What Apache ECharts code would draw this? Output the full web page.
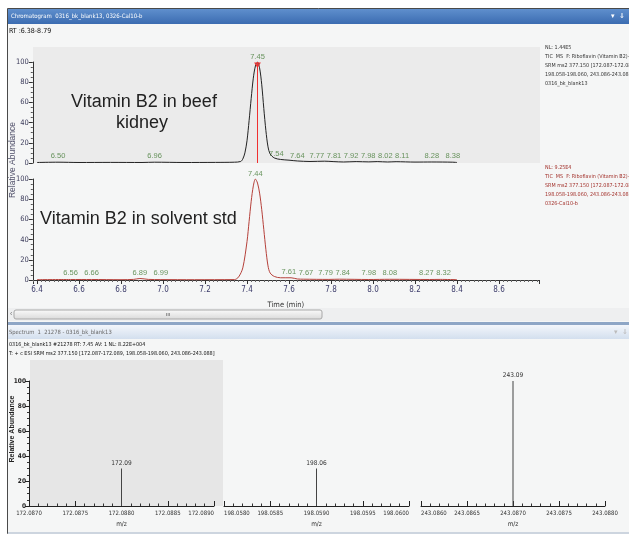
<!DOCTYPE html>
<html>
<head>
<meta charset="utf-8">
<script src="https://cdn.jsdelivr.net/npm/echarts@6/dist/echarts.min.js"></script>
<style>
html, body { margin: 0; padding: 0; background: #fff; }
#chart { width: 629px; height: 544px; }
</style>
</head>
<body>
<div id="chart"></div>
<script>
const NARROW = "'Liberation Sans Narrow', 'DejaVu Sans Condensed', 'Arial Narrow', sans-serif";
const ARIAL = "'Liberation Sans', Arial, sans-serif";
const PEAK_SIZE = 7.5;

// chromatogram time range (min)
const rtMin = 6.38;
const rtMax = 8.79;

// beef kidney trace [time, relative abundance]
const kidneyTrace = [
  [6.40, 0.5], [6.50, 0.8], [6.60, 0.5], [6.75, 0.6], [6.90, 0.5], [6.96, 0.8], [7.10, 0.5],
  [7.25, 0.6], [7.34, 0.8], [7.37, 1.5], [7.38, 4], [7.39, 10], [7.40, 22], [7.41, 42],
  [7.42, 64], [7.43, 84], [7.44, 96], [7.45, 100], [7.46, 94], [7.47, 78], [7.48, 54],
  [7.49, 32], [7.50, 16], [7.51, 9], [7.53, 5], [7.56, 3.5], [7.60, 2.8], [7.64, 2],
  [7.70, 1.5], [7.77, 1.8], [7.81, 1.4], [7.86, 1.0], [7.92, 1.4], [7.98, 1.1], [8.02, 1.4],
  [8.07, 1.0], [8.11, 1.3], [8.20, 0.9], [8.28, 1.0], [8.38, 0.8], [8.40, 0.5]
];

// solvent standard trace [time, relative abundance]
const solventTrace = [
  [6.40, 0.3], [6.56, 0.5], [6.66, 0.5], [6.80, 0.3], [6.86, 0.6], [6.89, 1.5], [6.93, 0.6],
  [6.99, 0.4], [7.15, 0.3], [7.34, 0.4], [7.36, 3], [7.38, 12], [7.40, 38], [7.41, 58],
  [7.42, 78], [7.43, 93], [7.44, 100], [7.45, 96], [7.46, 86], [7.47, 70], [7.48, 50],
  [7.49, 30], [7.50, 14], [7.51, 7], [7.53, 3.5], [7.56, 2.2], [7.61, 2.2], [7.64, 1],
  [7.67, 0.8], [7.79, 0.6], [7.84, 0.8], [7.98, 0.5], [8.08, 0.7], [8.27, 0.5], [8.32, 0.6],
  [8.40, 0.3]
];

// labelled peaks [time, label anchor height]
const kidneyPeaks = [
  [7.45, 100], [6.50, 1.5], [6.96, 1.5], [7.54, 3.5], [7.64, 2], [7.77, 2], [7.81, 2],
  [7.92, 2], [7.98, 2], [8.02, 2], [8.11, 2], [8.28, 2], [8.38, 2]
];
const solventPeaks = [
  [7.44, 100], [6.56, 1.5], [6.66, 1.5], [6.89, 2], [6.99, 1.5], [7.61, 2.5], [7.67, 1.5],
  [7.79, 1.5], [7.84, 1.5], [7.98, 1.5], [8.08, 1.5], [8.27, 1.5], [8.32, 1.5]
];

// spectrum sticks
const specRanges = [[172.087, 172.089], [198.058, 198.060], [243.086, 243.088]];
const specMz = [172.0880, 198.0590, 243.0870];
const specAbund = [30, 30, 100];
const specLabels = ['172.09', '198.06', '243.09'];

const kidneyInfo = ['NL: 1.44E5', 'TIC  MS  F: Riboflavin (Vitamin B2)+ c E', 'SRM ms2 377.150 [172.087-172.089,', '198.058-198.060, 243.086-243.088]', '0316_bk_blank13'];
const solventInfo = ['NL: 9.25E4', 'TIC  MS  F: Riboflavin (Vitamin B2)+ c E', 'SRM ms2 377.150 [172.087-172.089,', '198.058-198.060, 243.086-243.088]', '0326-Cal10-b'];

const chart = echarts.init(document.getElementById('chart'));

const chromY = (gi) => ({
  type: 'value', gridIndex: gi, min: 0, max: 100, interval: 20,
  axisLine: { show: true, lineStyle: { color: '#333', width: 1 } },
  axisTick: { show: true, length: 4, lineStyle: { color: '#333' } },
  minorTick: { show: true, splitNumber: 4, length: 2, lineStyle: { color: '#555' } },
  axisLabel: { fontSize: 7.5, fontFamily: NARROW, color: '#3d3d5c', margin: 4 },
  splitLine: { show: false }
});

const chromX = (gi, visible) => ({
  type: 'value', gridIndex: gi, min: rtMin, max: rtMax, splitNumber: 12, show: visible,
  axisLine: { show: true, onZero: false, lineStyle: { color: '#333', width: 1 } },
  axisTick: { show: true, length: 4, lineStyle: { color: '#333' } },
  minorTick: { show: true, splitNumber: 10, length: 2, lineStyle: { color: '#666' } },
  axisLabel: {
    fontSize: 8, fontFamily: NARROW, color: '#3d3d6b', margin: 6,
    showMinLabel: false, showMaxLabel: false,
    formatter: v => v.toFixed(1)
  },
  splitLine: { show: false },
  name: 'Time (min)', nameLocation: 'middle', nameGap: 21,
  nameTextStyle: { fontSize: 7.5, fontFamily: NARROW, color: '#333' }
});

const edgeAlign = [[null, 'right'], ['left', 'right'], ['left', null]];

const specX = specRanges.map((r, i) => ({
  type: 'value', gridIndex: 2 + i, min: r[0], max: r[1], interval: 0.0005,
  axisLine: { show: true, onZero: false, lineStyle: { color: '#222', width: 1 } },
  axisTick: { show: true, inside: true, length: 5, lineStyle: { color: '#222' } },
  minorTick: { show: true, splitNumber: 5, length: 2.5, lineStyle: { color: '#333' } },
  axisLabel: {
    fontSize: 6, fontFamily: NARROW, color: '#333', margin: 4,
    alignMinLabel: edgeAlign[i][0], alignMaxLabel: edgeAlign[i][1],
    formatter: v => v.toFixed(4)
  },
  splitLine: { show: false },
  name: 'm/z', nameLocation: 'middle', nameGap: 15,
  nameTextStyle: { fontSize: 6.5, fontFamily: NARROW, color: '#333' }
}));

const specY = specRanges.map((r, i) => ({
  type: 'value', gridIndex: 2 + i, min: 0, max: 100, interval: 20, show: i === 0,
  axisLine: { show: true, lineStyle: { color: '#222', width: 1 } },
  axisTick: { show: true, length: 4, lineStyle: { color: '#222' } },
  minorTick: { show: true, splitNumber: 4, length: 2, lineStyle: { color: '#333' } },
  axisLabel: { fontSize: 6.5, fontWeight: 'bold', fontFamily: NARROW, color: '#222', margin: 3 },
  splitLine: { show: false }
}));

const peakLabelSeries = (data, gi) => ({
  id: 'peaks' + gi,
  type: 'scatter', xAxisIndex: gi, yAxisIndex: gi, silent: true,
  symbolSize: 1, itemStyle: { color: 'rgba(0,0,0,0)' },
  data: data,
  label: {
    show: true, position: 'top', distance: 1,
    fontSize: PEAK_SIZE, fontFamily: ARIAL, color: '#437a36',
    formatter: p => p.value[0].toFixed(2)
  },
  z: 5
});

const specSeries = specMz.map((mz, i) => ({
  type: 'bar', xAxisIndex: 2 + i, yAxisIndex: 2 + i, silent: true,
  barWidth: 1,
  itemStyle: { color: '#444' },
  data: [[mz, specAbund[i]]],
  label: {
    show: true, position: 'top', distance: 2,
    fontSize: 6.5, fontFamily: NARROW, color: '#333',
    formatter: () => specLabels[i]
  }
}));

const txt = (x, y, text, style) => ({
  type: 'text', x: x, y: y, z: 50, silent: true,
  style: Object.assign({ text: text, fill: '#222', font: '7px ' + NARROW, verticalAlign: 'middle' }, style || {})
});

const graphic = [
  // window frame
  { type: 'rect', z: -20, silent: true, shape: { x: 7.5, y: 8.5, width: 625, height: 525 },
    style: { fill: '#f5f6f6', stroke: '#4a4a4a', lineWidth: 1 } },
  // chromatogram title bar
  { type: 'rect', z: -15, silent: true, shape: { x: 8, y: 9, width: 625, height: 15 },
    style: { fill: new echarts.graphic.LinearGradient(0, 0, 0, 1, [{ offset: 0, color: '#5f8fcd' }, { offset: 1, color: '#3b6cb1' }]) } },
  txt(11, 16.5, 'Chromatogram  0316_bk_blank13, 0326-Cal10-b', { fill: '#fff', font: '6px ' + NARROW }),
  txt(611, 16.5, '\u25BE  \u21D3', { fill: '#fff', font: '7px ' + ARIAL }),
  txt(9, 31, 'RT :6.38-8.79', { fill: '#111', font: '7px ' + NARROW }),
  // gray plot area (top chromatogram)
  { type: 'rect', z: -10, silent: true, shape: { x: 33, y: 47, width: 507, height: 116 }, style: { fill: '#ebebeb' } },
  // annotation text
  txt(144, 102, 'Vitamin B2 in beef', { font: '18px ' + ARIAL, align: 'center' }),
  txt(142, 123, 'kidney', { font: '18px ' + ARIAL, align: 'center' }),
  txt(40, 219, 'Vitamin B2 in solvent std', { font: '18px ' + ARIAL }),
  { type: 'text', x: 13, y: 160, rotation: Math.PI / 2, z: 50, silent: true,
    style: { text: 'Relative Abundance', fill: '#50506a', font: '8.5px ' + ARIAL, align: 'center', verticalAlign: 'middle' } },
  txt(545, 43, kidneyInfo.join('\n'), { font: '5.4px ' + NARROW, lineHeight: 9, fill: '#333', verticalAlign: 'top' }),
  txt(545, 163, solventInfo.join('\n'), { font: '5.4px ' + NARROW, lineHeight: 9, fill: '#a3322c', verticalAlign: 'top' }),
  // scrollbar
  { type: 'rect', z: -10, silent: true, shape: { x: 8, y: 308, width: 625, height: 13 }, style: { fill: '#eeeff0' } },
  { type: 'rect', z: -5, silent: true, shape: { x: 14, y: 310, width: 308, height: 9, r: 2 },
    style: { fill: new echarts.graphic.LinearGradient(0, 0, 0, 1, [{ offset: 0, color: '#fbfbfb' }, { offset: 1, color: '#d9d9d9' }]), stroke: '#a8a8a8', lineWidth: 1 } },
  txt(168, 314.5, 'ııı', { fill: '#555', font: '6px ' + ARIAL, align: 'center' }),
  txt(10, 314.5, '\u2039', { fill: '#777', font: '7px ' + ARIAL }),
  // separator + spectrum title bar
  { type: 'rect', z: -10, silent: true, shape: { x: 8, y: 322, width: 625, height: 3 }, style: { fill: '#8ea6c6' } },
  { type: 'rect', z: -10, silent: true, shape: { x: 8, y: 325, width: 625, height: 14 },
    style: { fill: new echarts.graphic.LinearGradient(0, 0, 0, 1, [{ offset: 0, color: '#f3f6fb' }, { offset: 1, color: '#d3dfee' }]) } },
  txt(9, 332, 'Spectrum  1  21278 - 0316_bk_blank13', { fill: '#6a6a6a', font: '5.8px ' + NARROW }),
  txt(614, 332, '\u25BE  \u21D3', { fill: '#bbb', font: '7px ' + ARIAL }),
  txt(9, 345, '0316_bk_blank13 #21278 RT: 7.45 AV: 1 NL: 8.22E+004', { fill: '#111', font: '5.4px ' + NARROW }),
  txt(9, 354, 'T: + c ESI SRM ms2 377.150 [172.087-172.089, 198.058-198.060, 243.086-243.088]', { fill: '#111', font: '5.4px ' + NARROW }),
  // gray plot area (spectrum)
  { type: 'rect', z: -10, silent: true, shape: { x: 30, y: 360, width: 193, height: 146 }, style: { fill: '#e6e6e6' } },
  { type: 'text', x: 12, y: 429, rotation: Math.PI / 2, z: 50, silent: true,
    style: { text: 'Relative Abundance', fill: '#222', font: 'bold 7px ' + ARIAL, align: 'center', verticalAlign: 'middle' } },
  // bottom edge
  { type: 'rect', z: -10, silent: true, shape: { x: 8, y: 532, width: 625, height: 2 }, style: { fill: '#cdd5df' } },
  { type: 'rect', z: -10, silent: true, shape: { x: 0, y: 534, width: 629, height: 10 }, style: { fill: '#ffffff' } }
];

const option = {
  animation: false,
  backgroundColor: '#ffffff',
  graphic: graphic,
  grid: [
    { left: 32.8, width: 506.1, top: 62, height: 101 },
    { left: 32.8, width: 506.1, top: 179, height: 101 },
    { left: 29, width: 185, top: 381, height: 125 },
    { left: 224, width: 185, top: 381, height: 125 },
    { left: 421, width: 184, top: 381, height: 125 }
  ],
  xAxis: [chromX(0, false), chromX(1, true)].concat(specX),
  yAxis: [chromY(0), chromY(1)].concat(specY),
  series: [
    {
      type: 'line', xAxisIndex: 0, yAxisIndex: 0, silent: true,
      showSymbol: false, symbol: 'none', smooth: 0.3,
      lineStyle: { color: '#222', width: 1 },
      data: kidneyTrace,
      markLine: {
        silent: true, symbol: 'none', animation: false,
        lineStyle: { color: '#f03030', type: 'solid', width: 1, opacity: 1 },
        emphasis: { disabled: true },
        label: { show: false },
        data: [{ xAxis: 7.45 }]
      },
      markPoint: {
        silent: true, symbol: 'triangle', symbolRotate: 180, symbolSize: [5, 4],
        itemStyle: { color: 'rgba(0,0,0,0)', borderColor: '#f03030', borderWidth: 1 },
        label: { show: false },
        data: [{ coord: [7.45, 97] }]
      },
      z: 3
    },
    {
      type: 'line', xAxisIndex: 1, yAxisIndex: 1, silent: true,
      showSymbol: false, symbol: 'none', smooth: 0.3,
      lineStyle: { color: '#b5403a', width: 1 },
      data: solventTrace
    },
    peakLabelSeries(kidneyPeaks, 0),
    peakLabelSeries(solventPeaks, 1)
  ].concat(specSeries)
};

chart.setOption(option);

// spread crowded baseline peak labels sideways, like the data system does
const measure = document.createElement('canvas').getContext('2d');
measure.font = PEAK_SIZE + 'px ' + ARIAL;
function spreadLabels(peaks, gi) {
  const gap = 2.5;
  const items = peaks.map((p, idx) => ({
    idx: idx,
    x: chart.convertToPixel({ gridIndex: gi }, p)[0],
    w: measure.measureText(p[0].toFixed(2)).width + gap,
    low: p[1] < 50
  }));
  let clusters = items.filter(d => d.low).sort((a, b) => a.x - b.x)
    .map(d => ({ items: [d] }));
  const centre = c => c.items.reduce((s, d) => s + d.x, 0) / c.items.length;
  const width = c => c.items.reduce((s, d) => s + d.w, 0);
  let merged = true;
  while (merged) {
    merged = false;
    for (let i = 0; i + 1 < clusters.length; i++) {
      const a = clusters[i], b = clusters[i + 1];
      if (centre(a) + width(a) / 2 > centre(b) - width(b) / 2) {
        clusters.splice(i, 2, { items: a.items.concat(b.items) });
        merged = true;
        break;
      }
    }
  }
  const offsets = peaks.map(() => 0);
  clusters.forEach(c => {
    let left = centre(c) - width(c) / 2;
    c.items.forEach(d => {
      offsets[d.idx] = left + d.w / 2 - d.x;
      left += d.w;
    });
  });
  return peaks.map((p, idx) => ({ value: p, label: { offset: [offsets[idx], 0] } }));
}

chart.setOption({
  series: [
    { id: 'peaks0', data: spreadLabels(kidneyPeaks, 0) },
    { id: 'peaks1', data: spreadLabels(solventPeaks, 1) }
  ]
});
</script>
</body>
</html>
